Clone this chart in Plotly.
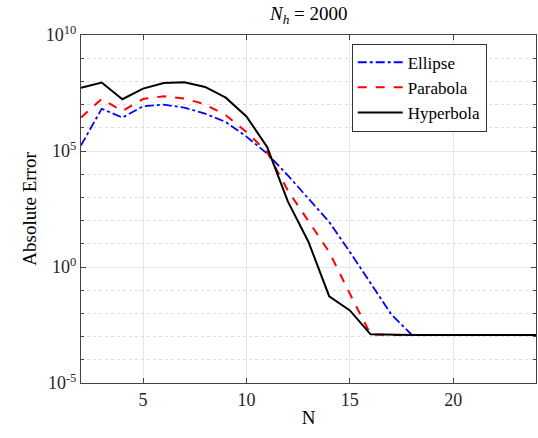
import plotly.graph_objects as go

N = list(range(2, 25))
ellipse_log = [5.24, 6.82, 6.44, 6.93, 7.0, 6.87, 6.61, 6.25, 5.62, 4.89, 3.95, 2.95, 1.94, 0.65, -0.72, -2.04, -2.93,
               -2.93, -2.93, -2.93, -2.93, -2.93, -2.93]
parabola_log = [6.44, 7.24, 6.72, 7.24, 7.36, 7.26, 7.01, 6.54, 5.82, 4.96, 3.3, 2.0, 0.65, -1.15, -2.9, -2.93,
                -2.93, -2.93, -2.93, -2.93, -2.93, -2.93, -2.93]
hyperbola_log = [7.72, 7.95, 7.23, 7.69, 7.93, 7.96, 7.76, 7.30, 6.49, 5.17, 2.83, 1.08, -1.26, -1.87, -2.9, -2.93,
                 -2.93, -2.93, -2.93, -2.93, -2.93, -2.93, -2.93]
ellipse = [10 ** v for v in ellipse_log]
parabola = [10 ** v for v in parabola_log]
hyperbola = [10 ** v for v in hyperbola_log]

ytick_vals = [1e-5, 1e0, 1e5, 1e10]
ytick_text = ["10<sup>-5</sup>", "10<sup>0</sup>", "10<sup>5</sup>", "10<sup>10</sup>"]
yminor_vals = [10 ** k for k in range(-5, 11) if k % 5 != 0]
xtick_vals = [5, 10, 15, 20]

font_family = "Liberation Serif"

fig = go.Figure()
fig.add_trace(go.Scatter(x=N, y=ellipse, mode="lines", name="Ellipse",
                         line=dict(color="#0000ff", dash="dashdot", width=1.8)))
fig.add_trace(go.Scatter(x=N, y=parabola, mode="lines", name="Parabola",
                         line=dict(color="#ff0000", dash="dash", width=2)))
fig.add_trace(go.Scatter(x=N, y=hyperbola, mode="lines", name="Hyperbola",
                         line=dict(color="#000000", width=2)))

fig.update_layout(
    width=538, height=438,
    margin=dict(l=81, r=2, t=35, b=55),
    paper_bgcolor="white", plot_bgcolor="white",
    font=dict(family=font_family, size=18, color="#262626"),
    title=dict(text="<i>N</i><sub><i>h</i></sub> = 2000", x=0.574, xanchor="center",
               y=0.985, yanchor="top", font=dict(family=font_family, size=19, color="#000")),
    legend=dict(x=0.595, y=0.975, xanchor="left", yanchor="top",
                bgcolor="white", bordercolor="#333", borderwidth=1,
                font=dict(family=font_family, size=17, color="#000"),
                tracegroupgap=0, itemwidth=45),
    showlegend=True,
)
fig.update_xaxes(
    range=[2, 24], tickmode="array", tickvals=xtick_vals,
    showgrid=True, gridcolor="#e6e6e6", gridwidth=1,
    showline=True, linecolor="#444", linewidth=1, mirror="ticks",
    ticks="inside", ticklen=5, tickcolor="#444",
    zeroline=False,
    title=dict(text="N", font=dict(family=font_family, size=19, color="#000"), standoff=2),
    tickfont=dict(family=font_family, size=18, color="#262626"),
)
fig.update_yaxes(
    type="log", range=[-5, 10], tickmode="array", tickvals=ytick_vals, ticktext=ytick_text,
    showgrid=True, gridcolor="#e6e6e6", gridwidth=1,
    showline=True, linecolor="#444", linewidth=1, mirror="ticks",
    ticks="inside", ticklen=5, tickcolor="#444",
    minor=dict(tickmode="array", tickvals=yminor_vals, showgrid=True, gridcolor="#dedede",
               griddash="dot", gridwidth=1, ticks="inside", ticklen=3, tickcolor="#444"),
    zeroline=False,
    title=dict(text="Absolute Error", font=dict(family=font_family, size=19, color="#000"), standoff=4),
    tickfont=dict(family=font_family, size=18, color="#262626"),
)

fig.write_html("out.html")
